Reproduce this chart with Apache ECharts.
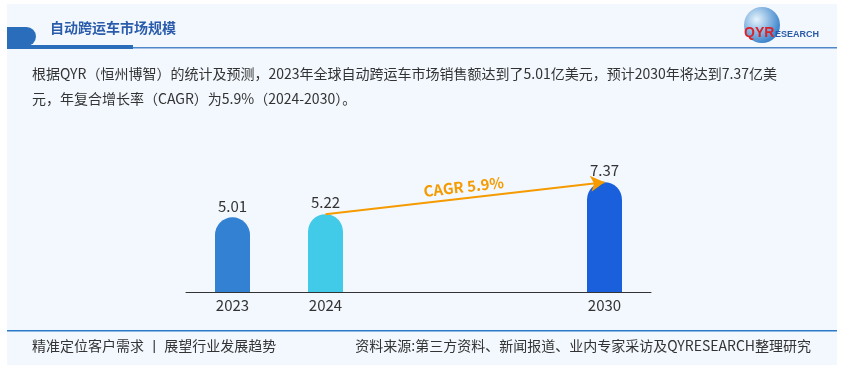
<!DOCTYPE html>
<html><head><meta charset="utf-8">
<script src="https://cdn.jsdelivr.net/npm/echarts@6/dist/echarts.min.js"></script>
<style>html,body{margin:0;padding:0;background:#fff;}#c{width:844px;height:371px;}</style>
</head><body><div id="c"></div>
<script>
const categories = ['2023', '2024', '', '', '2030'];
const values = [5.01, 5.22, null, null, 7.37];
const barColors = ['#3381d3', '#42cbe8', null, null, '#1a5fdc'];
const cagrFrom = '2024';
const cagrTo = '2030';
const cagrLabel = 'CAGR 5.9%';
const titleText = '自动跨运车市场规模';
const descLine1 = '根据QYR（恒州博智）的统计及预测，2023年全球自动跨运车市场销售额达到了5.01亿美元，预计2030年将达到7.37亿美';
const descLine2 = '元，年复合增长率（CAGR）为5.9%（2024-2030）。';
const footLeft = '精准定位客户需求 丨 展望行业发展趋势';
const footRight = '资料来源:第三方资料、新闻报道、业内专家采访及QYRESEARCH整理研究';

const FONT = '"Noto Sans CJK SC", "Microsoft YaHei", sans-serif';
const chart = echarts.init(document.getElementById('c'));
chart.setOption({
  animation: false,
  backgroundColor: '#ffffff',
  graphic: [
    { type: 'rect', z: -10, shape: { x: 7, y: 4, width: 830, height: 361 }, style: { fill: '#f3f8fe' } },
    { type: 'rect', shape: { x: 7, y: 27, width: 29, height: 19, r: [0, 10, 10, 0] }, style: { fill: '#2a6ebb' } },
    { type: 'rect', shape: { x: 7, y: 45, width: 126, height: 4 }, style: { fill: '#2a6ebb' } },
    { type: 'rect', shape: { x: 133, y: 47, width: 704, height: 1.5 }, style: { fill: '#4f87c8' } },
    { type: 'text', left: 50, top: 21, style: { text: titleText, font: 'bold 14px ' + FONT, fill: '#2b5cab' } },
    { type: 'circle', shape: { cx: 762, cy: 25, r: 18 }, style: { fill: new echarts.graphic.RadialGradient(0.35, 0.35, 0.8, [{ offset: 0, color: '#e6f4fc' }, { offset: 1, color: '#1c6fc2' }]) } },
    { type: 'text', left: 744, top: 26, style: { text: 'QYR', font: 'bold 14px Arial, sans-serif', fill: '#d9232b' } },
    { type: 'text', left: 775, top: 30, style: { text: 'ESEARCH', font: 'bold 9px Arial, sans-serif', fill: '#2a5aa8' } },
    { type: 'text', left: 32, top: 67, style: { text: descLine1, font: '14px ' + FONT, fill: '#333333' } },
    { type: 'text', left: 32, top: 92, style: { text: descLine2, font: '14px ' + FONT, fill: '#333333' } },
    { type: 'rect', shape: { x: 7, y: 330, width: 830, height: 1.5 }, style: { fill: '#2a7ac8' } },
    { type: 'text', left: 32, top: 339, style: { text: footLeft, font: '14px ' + FONT, fill: '#333333' } },
    { type: 'text', right: 33, top: 339, style: { text: footRight, font: '14px ' + FONT, fill: '#333333' } }
  ],
  grid: { left: 186, right: 193, top: 143, bottom: 79 },
  xAxis: {
    type: 'category', data: categories,
    axisLine: { lineStyle: { color: '#333333', width: 1 } },
    axisTick: { show: false },
    axisLabel: { color: '#333333', fontSize: 15, fontFamily: FONT, margin: 6 }
  },
  yAxis: { type: 'value', min: 0, max: 10, show: false, splitLine: { show: false } },
  series: [{
    type: 'bar', barWidth: 35,
    data: values.map((v, i) => ({ value: v, itemStyle: { color: barColors[i] } })),
    itemStyle: { borderRadius: [17.5, 17.5, 0, 0] },
    label: { show: true, position: 'top', distance: 4, color: '#333333', fontSize: 15, fontFamily: FONT },
    markLine: {
      silent: true,
      symbol: ['none', 'arrow'], symbolSize: [12, 14],
      lineStyle: { color: '#f59b00', width: 2, type: 'solid' },
      label: { show: true, position: 'middle', formatter: cagrLabel, color: '#f59b00', fontSize: 15, fontWeight: 'bold', fontFamily: FONT, distance: 4 },
      data: [[
        { coord: [cagrFrom, values[categories.indexOf(cagrFrom)]] },
        { coord: [cagrTo, values[categories.indexOf(cagrTo)]] }
      ]]
    }
  }]
});
</script></body></html>
